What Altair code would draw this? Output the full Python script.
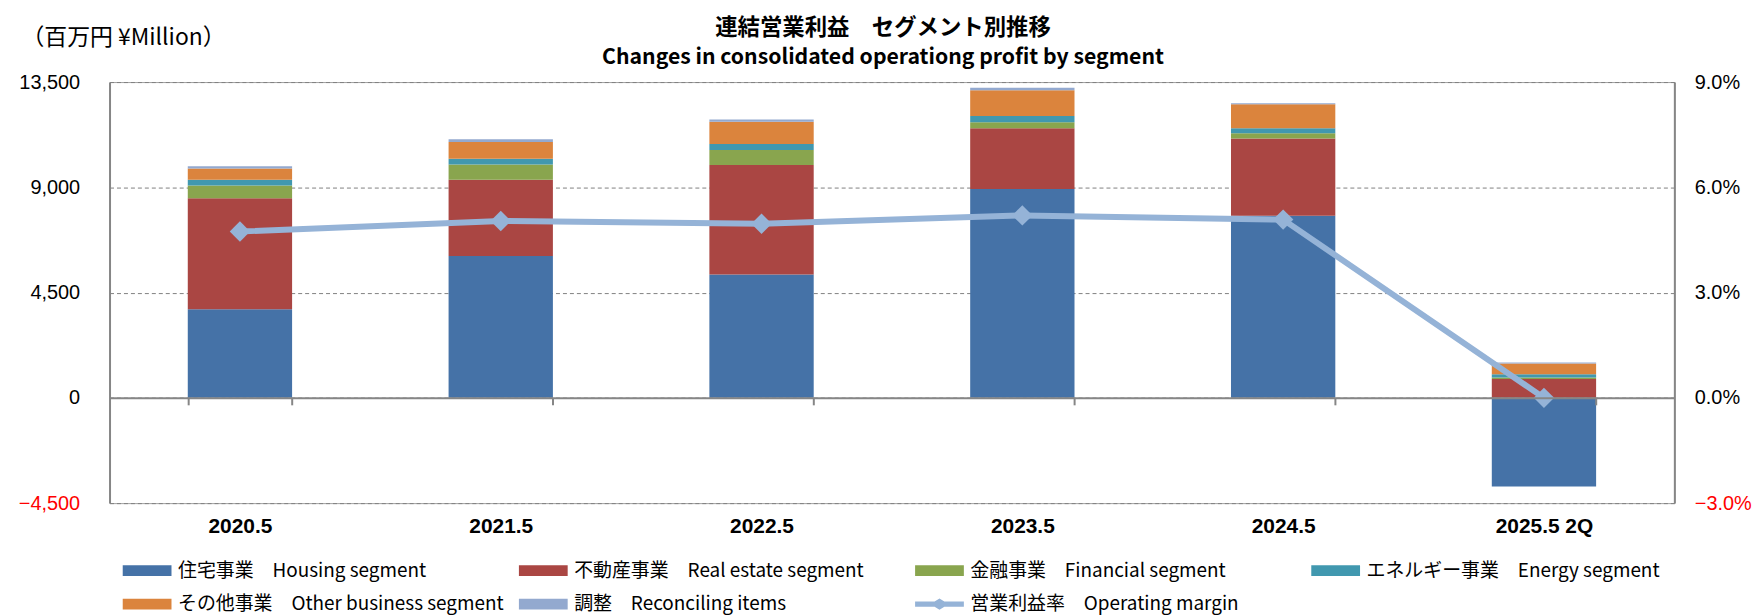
import altair as alt
import pandas as pd

categories = ["2020.5", "2021.5", "2022.5", "2023.5", "2024.5", "2025.5 2Q"]
segments = [
    "住宅事業　Housing segment",
    "不動産事業　Real estate segment",
    "金融事業　Financial segment",
    "エネルギー事業　Energy segment",
    "その他事業　Other business segment",
    "調整　Reconciling items",
]
margin_label = "営業利益率　Operating margin"

housing = [3790, 6060, 5275, 8930, 7785, -3785]
real_estate = [4740, 3260, 4680, 2595, 3300, 810]
financial = [545, 655, 640, 255, 230, 60]
energy = [245, 245, 255, 270, 215, 140]
other = [485, 715, 950, 1105, 1020, 455]
reconciling = [100, 115, 100, 100, 45, 45]
operating_margin = [0.0474, 0.0504, 0.0496, 0.0520, 0.0508, 0.0]

colors = ["#4572A7", "#AA4643", "#89A54E", "#4198AF", "#DB843D", "#93A9CF", "#95B3D7"]

series = [housing, real_estate, financial, energy, other, reconciling]
rows = []
for si, (seg, vals) in enumerate(zip(segments, series)):
    for ci, cat in enumerate(categories):
        rows.append({"category": cat, "segment": seg, "value": vals[ci], "order": si})
bar_df = pd.DataFrame(rows)
line_df = pd.DataFrame({"category": categories, "margin": operating_margin, "series": margin_label})

AX = "#868686"
# symbols drawn 4x the nominal unit wide (symbolSize 600 -> unit 12.25 px)
rect_path = "M-2,-0.44L2,-0.44L2,0.44L-2,0.44Z"
line_path = "M-2,-0.22L-0.4,-0.22L0,-0.46L0.4,-0.22L2,-0.22L2,0.22L0.4,0.22L0,0.46L-0.4,0.22L-2,0.22Z"

legend = alt.Legend(
    title=None, orient="none", legendX=13, legendY=478, direction="horizontal",
    columns=4, symbolSize=600, symbolOffset=12.25, labelOffset=18.5,
    labelFont="Noto Sans CJK JP", labelFontSize=19,
    labelColor="black", columnPadding=14, rowPadding=11, gridAlign="all",
    labelLimit=600, symbolStrokeWidth=0, symbolOpacity=1,
    symbolType=alt.ExprRef(expr=f"datum.value === '{margin_label}' ? '{line_path}' : '{rect_path}'"),
)
color_scale = alt.Scale(domain=segments + [margin_label], range=colors)

x_enc = alt.X(
    "category:N", sort=categories,
    scale=alt.Scale(paddingInner=0.6, paddingOuter=0.3),
    axis=alt.Axis(
        title=None, offset=-105.75, domainColor=AX, domainWidth=2, ticks=True,
        tickBand="extent", tickColor=AX, tickWidth=2, tickSize=7, labelPadding=111,
        labelFont="Liberation Sans", labelFontSize=21, labelFontWeight="bold",
        labelColor="black", labelAngle=0, zindex=1,
    ),
)

neg_color = alt.condition("datum.value < 0", alt.value("#FF0000"), alt.value("#000000"))

bars = alt.Chart(bar_df).mark_bar().encode(
    x=x_enc,
    y=alt.Y(
        "value:Q", stack="zero",
        scale=alt.Scale(domain=[-4500, 13500], nice=False, zero=False),
        axis=alt.Axis(
            values=[-4500, 0, 4500, 9000, 13500], format=",.0f", grid=True, gridDash=[4, 3],
            gridColor="#808080", gridWidth=1, domainColor=AX, domainWidth=2, ticks=False,
            labelPadding=30, labelFontSize=20, labelFont="Liberation Sans", labelColor=neg_color,
            title="（百万円 ¥Million）", titleAngle=0, titleAlign="left", titleBaseline="middle",
            titleX=-89, titleY=-45, titleFont="Noto Sans CJK JP", titleFontSize=23,
            titleFontWeight="normal", titleColor="black",
        ),
    ),
    color=alt.Color("segment:N", scale=color_scale, legend=legend),
    order=alt.Order("order:Q"),
)

line = alt.Chart(line_df).mark_line(
    strokeWidth=6,
    point=alt.OverlayMarkDef(shape="diamond", filled=True, size=420, opacity=1),
).encode(
    x=alt.X("category:N", sort=categories),
    y=alt.Y(
        "margin:Q",
        scale=alt.Scale(domain=[-0.03, 0.09], nice=False, zero=False),
        axis=alt.Axis(
            orient="right", values=[-0.03, 0.0, 0.03, 0.06, 0.09], format=".1%", grid=False,
            domainColor=AX, domainWidth=2, ticks=False, labelPadding=20, labelFontSize=20,
            labelFont="Liberation Sans", labelColor=neg_color, title=None,
        ),
    ),
    color=alt.Color("series:N", scale=color_scale, legend=legend),
)

chart = alt.layer(bars, line).resolve_scale(y="independent").properties(
    width=1572, height=423,
    autosize=alt.AutoSizeParams(type="none"),
    padding={"left": 102, "top": 73, "right": 78, "bottom": 112},
    title=alt.Title(
        text="連結営業利益　セグメント別推移",
        subtitle="Changes in consolidated operationg profit by segment",
        anchor="middle", frame="group", font="Noto Sans CJK JP", fontSize=22.5,
        fontWeight="bold", color="black", subtitleFont="Noto Sans CJK JP",
        subtitleFontSize=21.3, subtitleFontWeight="bold", subtitleColor="black",
        subtitlePadding=7, offset=-42, dx=-9,
    ),
).configure_view(stroke="#A0A0A0", strokeWidth=1)

chart.save("out.html", embed_options={"renderer": "svg", "actions": False})
